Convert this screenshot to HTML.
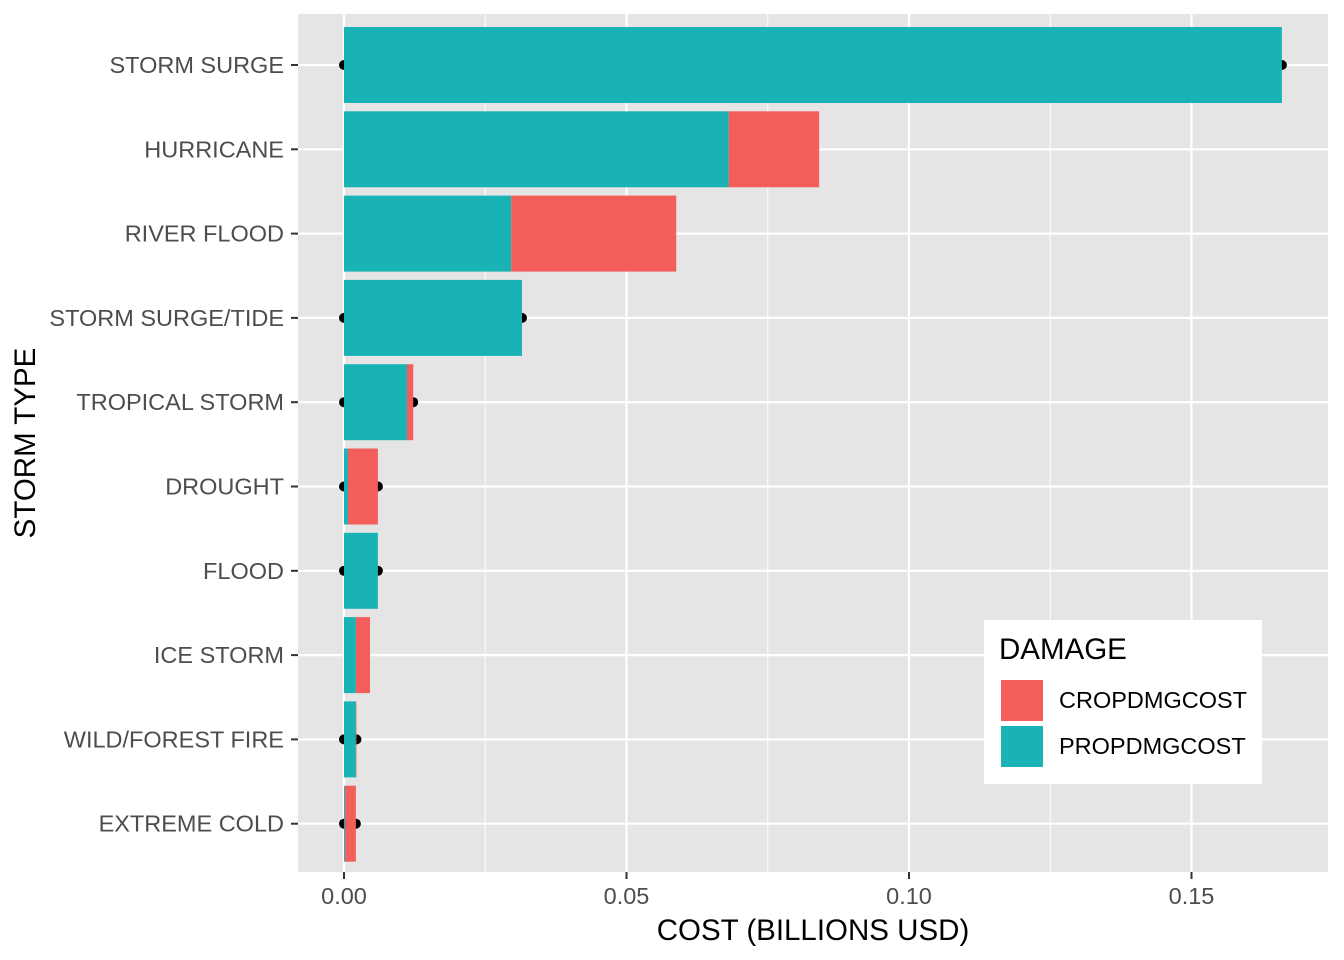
<!DOCTYPE html>
<html><head><meta charset="utf-8"><style>
body{margin:0;background:#fff;}
svg{display:block;font-family:"Liberation Sans",Arial,sans-serif;}
</style></head><body>
<svg id="chart" width="1344" height="960" viewBox="0 0 1344 960"></svg>
<script>
const categories=["STORM SURGE","HURRICANE","RIVER FLOOD","STORM SURGE/TIDE","TROPICAL STORM","DROUGHT","FLOOD","ICE STORM","WILD/FOREST FIRE","EXTREME COLD"];
const propValues=[0.166,0.0681,0.0296,0.0315,0.01115,0.0007,0.006,0.0021,0.0021,0.0002];
const cropValues=[0,0.016,0.0292,0,0.0011,0.0053,0,0.0025,0.0001,0.0019];
const dotRows=[true,false,false,true,true,true,true,false,true,true];
const xTicks=[0,0.05,0.10,0.15];
const xTickLabels=["0.00","0.05","0.10","0.15"];
const xMinor=[0.025,0.075,0.125];

const NS="http://www.w3.org/2000/svg";
const svg=document.getElementById("chart");
const P={l:298,r:1328,t:14,b:872};
const x=v=>344+v*5650;
const y=i=>65+i*84.3;
const bh=76;
function mk(tag,attrs,parent){const e=document.createElementNS(NS,tag);for(const k in attrs)e.setAttribute(k,attrs[k]);(parent||svg).appendChild(e);return e;}

const panel=mk("rect",{x:P.l,y:P.t,width:P.r-P.l,height:P.b-P.t,fill:"#e5e5e5"});


xMinor.forEach(v=>{const l=mk("line",{x1:x(v),x2:x(v),y1:P.t,y2:P.b,stroke:"#fff","stroke-width":1});

});
xTicks.forEach(v=>{const l=mk("line",{x1:x(v),x2:x(v),y1:P.t,y2:P.b,stroke:"#fff","stroke-width":2.2});

});
categories.forEach((c,i)=>{const l=mk("line",{x1:P.l,x2:P.r,y1:y(i),y2:y(i),stroke:"#fff","stroke-width":2.2});

});

categories.forEach((c,i)=>{if(!dotRows[i])return;
 [0,propValues[i]+cropValues[i]].forEach(v=>{const d=mk("circle",{cx:x(v),cy:y(i),r:5,fill:"#000"});
 
 });});

categories.forEach((c,i)=>{
 const p=mk("rect",{x:x(0),y:y(i)-bh/2,width:x(propValues[i])-x(0),height:bh,fill:"#19b3b6"});
 
 
 if(cropValues[i]>0){const r=mk("rect",{x:x(propValues[i]),y:y(i)-bh/2,width:x(propValues[i]+cropValues[i])-x(propValues[i]),height:bh,fill:"#f35e5a"});
 
 }
 const t=mk("line",{x1:P.l-7,x2:P.l,y1:y(i),y2:y(i),stroke:"#333","stroke-width":2});
 
 
 const lb=mk("text",{x:P.l-14,y:y(i)+8,"text-anchor":"end","font-size":"23.5",fill:"#4d4d4d"});
 lb.textContent=c;
 
 
});
xTicks.forEach((v,k)=>{
 const t=mk("line",{x1:x(v),x2:x(v),y1:P.b,y2:P.b+7,stroke:"#333","stroke-width":2});
 
 
 const lb=mk("text",{x:x(v),y:P.b+32,"text-anchor":"middle","font-size":"23.5",fill:"#4d4d4d"});
 lb.textContent=xTickLabels[k];
 
 
});
const xt=mk("text",{x:813,y:940,"text-anchor":"middle","font-size":"29.5",fill:"#000"});
xt.textContent="COST (BILLIONS USD)";


const yt=mk("text",{x:0,y:0,"text-anchor":"middle","font-size":"29.5",fill:"#000",transform:"translate(35,443) rotate(-90)"});
yt.textContent="STORM TYPE";



const lg=mk("g",{});


mk("rect",{x:984,y:620,width:278,height:164,fill:"#fff"},lg);
const lt=mk("text",{x:999,y:659,"font-size":"29.5",fill:"#000"},lg);
lt.textContent="DAMAGE";


[["CROPDMGCOST","#f35e5a",680],["PROPDMGCOST","#19b3b6",726]].forEach(([n,c,yy])=>{
 const e=mk("g",{},lg);
 
 
 mk("rect",{x:1001,y:yy,width:42,height:41,fill:c},e);
 const t=mk("text",{x:1059,y:yy+28,"font-size":"23.5",fill:"#000"},e);
 t.textContent=n;
});
</script>
</body></html>
